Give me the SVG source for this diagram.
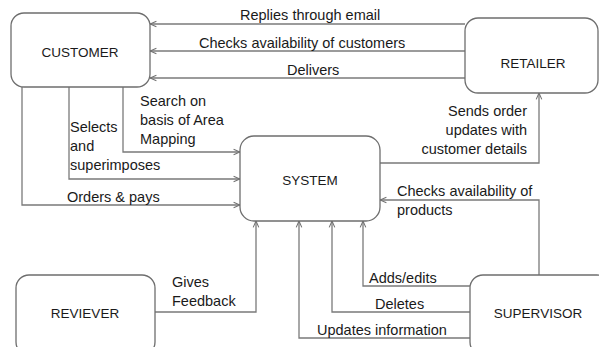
<svg xmlns="http://www.w3.org/2000/svg" width="599" height="347" viewBox="0 0 599 347">
<defs>
<marker id="arr" viewBox="0 0 10 10" refX="10" refY="5" markerWidth="8" markerHeight="8" markerUnits="userSpaceOnUse" orient="auto">
<polyline points="2,1.5 10,5 2,8.5" fill="none" stroke="#707070" stroke-width="1.3"/>
</marker>
<style>
.box{fill:#fff;stroke:#6e6e6e;stroke-width:1.3}
.nl{font-family:"Liberation Sans",Arial,sans-serif;font-size:13.5px;fill:#1a1a1a;text-anchor:middle}
.el{font-family:"Liberation Sans",Arial,sans-serif;font-size:14.5px;fill:#1a1a1a}
.c{fill:none;stroke:#7a7a7a;stroke-width:1.3}
.a{marker-end:url(#arr)}
</style>
</defs>
<rect width="599" height="347" fill="#fff"/>
<g id="connectors">
<polyline class="c a" points="465,24 150,24"/>
<polyline class="c a" points="465,51 150,51"/>
<polyline class="c a" points="465,78 150,78"/>
<polyline class="c a" points="123,87 123,152 240,152"/>
<polyline class="c a" points="69,87 69,179 240,179"/>
<polyline class="c a" points="22,87 22,205 240,205"/>
<polyline class="c a" points="380,163 539,163 539,93"/>
<polyline class="c a" points="539,275 539,200 380,200"/>
<polyline class="c a" points="470,286 363,286 363,221"/>
<polyline class="c a" points="470,312 332,312 332,221"/>
<polyline class="c a" points="470,338 299,338 299,221"/>
<polyline class="c a" points="155,312 256,312 256,221"/>
<text class="el" x="240" y="20">Replies through email</text>
<text class="el" x="199" y="48">Checks availability of customers</text>
<text class="el" x="287" y="75">Delivers</text>
<text class="el" x="140" y="106">Search on</text>
<text class="el" x="140" y="125">basis of Area</text>
<text class="el" x="140" y="144">Mapping</text>
<text class="el" x="70" y="132">Selects</text>
<text class="el" x="70" y="151">and</text>
<text class="el" x="70" y="170">superimposes</text>
<text class="el" x="67" y="202">Orders &amp; pays</text>
<text class="el" x="527" y="116" text-anchor="end">Sends order</text>
<text class="el" x="527" y="135" text-anchor="end">updates with</text>
<text class="el" x="527" y="154" text-anchor="end">customer details</text>
<text class="el" x="397" y="196">Checks availability of</text>
<text class="el" x="397" y="215">products</text>
<text class="el" x="369" y="283">Adds/edits</text>
<text class="el" x="375" y="309">Deletes</text>
<text class="el" x="317" y="335">Updates information</text>
<text class="el" x="172" y="287">Gives</text>
<text class="el" x="172" y="306">Feedback</text>
</g>
<g id="customer">
<rect class="box" x="11" y="13" width="139" height="74" rx="13"/>
<text class="nl" x="80" y="57">CUSTOMER</text>
</g>
<g id="retailer">
<rect class="box" x="465" y="18" width="133" height="75" rx="13"/>
<text class="nl" x="533" y="68">RETAILER</text>
</g>
<g id="system">
<rect class="box" x="240" y="136" width="140" height="85" rx="14"/>
<text class="nl" x="310" y="185">SYSTEM</text>
</g>
<g id="reviever">
<rect class="box" x="16" y="275" width="139" height="80" rx="13"/>
<text class="nl" x="85" y="318">REVIEVER</text>
</g>
<g id="supervisor">
<rect class="box" x="470" y="275" width="140" height="80" rx="13"/>
<text class="nl" x="538" y="318">SUPERVISOR</text>
</g>
</svg>
